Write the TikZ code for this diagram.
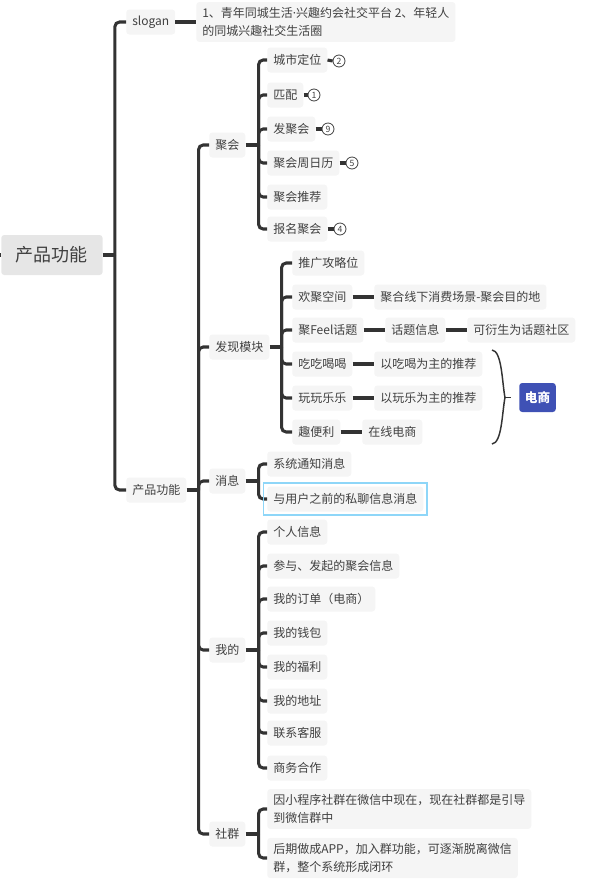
\documentclass[tikz,border=0pt]{standalone}
\usepackage{fontspec}
\setmainfont{Noto Sans CJK SC}
\newfontfamily\latinf{Noto Sans}
\usetikzlibrary{fit}
\definecolor{textc}{HTML}{404040}
\definecolor{boxc}{HTML}{F5F5F5}
\definecolor{rootc}{HTML}{E6E6E6}
\definecolor{linec}{HTML}{333333}
\definecolor{hlc}{HTML}{8ED6F8}
\definecolor{ecom}{HTML}{3F51B5}
\begin{document}
\begin{tikzpicture}[x=0.75pt,y=-0.75pt,
  box/.style={fill=boxc, rounded corners=2.25pt, text=textc, font=\fontsize{9pt}{13.5pt}\selectfont, inner xsep=4.5pt, inner ysep=3pt, minimum height=18.75pt, anchor=west},
  box2/.style={box, align=left, inner ysep=4pt},
  conn/.style={draw=linec, line width=2.3pt},
  branch/.style={conn, rounded corners=3.5pt},
  circ/.style={circle, draw=textc, line width=0.6pt, inner sep=0pt, minimum size=9pt, text=textc, font=\fontsize{6.5pt}{7pt}\selectfont},
]
\useasboundingbox (0,0) rectangle (596,890);

% root and level 1
\node[box, fill=rootc, font=\fontsize{13.5pt}{16pt}\selectfont, inner xsep=11pt, minimum height=30pt] (root) at (1,255) {产品功能};
\node[box] (slogan) at (126,22) {slogan};
\node[box2] (slogantxt) at (196,22) {1、青年同城生活{\latinf ·}兴趣约会社交平台 2、年轻人\\的同城兴趣社交生活圈};
\node[box] (pf) at (126,490) {产品功能};

% level 2
\node[box] (juhui) at (209,145) {聚会};
\node[box] (faxian) at (209,347) {发现模块};
\node[box] (xiaoxi) at (209,481) {消息};
\node[box] (wode) at (209,650) {我的};
\node[box] (shequn) at (209,834) {社群};

% 聚会 children
\node[box] (jh1) at (267,60) {城市定位};
\node[box] (jh2) at (267,95) {匹配};
\node[box] (jh3) at (267,129) {发聚会};
\node[box] (jh4) at (267,163) {聚会周日历};
\node[box] (jh5) at (267,197) {聚会推荐};
\node[box] (jh6) at (267,229) {报名聚会};
\node[circ] (c1) at (339,61) {2};
\node[circ] (c2) at (314,95) {1};
\node[circ] (c3) at (328,129) {9};
\node[circ] (c4) at (352,163) {5};
\node[circ] (c6) at (340,229) {4};

% 发现模块 children
\node[box] (fx1) at (292,263) {推广攻略位};
\node[box] (fx2) at (292,297) {欢聚空间};
\node[box] (fx3) at (292,330) {聚Feel话题};
\node[box] (fx4) at (292,364) {吃吃喝喝};
\node[box] (fx5) at (292,398) {玩玩乐乐};
\node[box] (fx6) at (292,432) {趣便利};
\node[box] (fx2a) at (374,297) {聚合线下消费场景-聚会目的地};
\node[box] (fx3a) at (385,330) {话题信息};
\node[box] (fx3b) at (467,330) {可衍生为话题社区};
\node[box] (fx4a) at (374,364) {以吃喝为主的推荐};
\node[box] (fx5a) at (374,398) {以玩乐为主的推荐};
\node[box] (fx6a) at (362,432) {在线电商};
\node[box, fill=ecom, text=white, font=\fontsize{9.5pt}{12pt}\selectfont\bfseries, minimum height=21.75pt, inner xsep=4.2pt] (ds) at (519,397.5) {电商};

% 消息 children
\node[box] (xx1) at (267,464) {系统通知消息};
\node[box] (xx2) at (267,499) {与用户之前的私聊信息消息};

% 我的 children
\node[box] (wd1) at (267,532) {个人信息};
\node[box] (wd2) at (267,566) {参与、发起的聚会信息};
\node[box] (wd3) at (267,599) {我的订单（电商）};
\node[box] (wd4) at (267,633) {我的钱包};
\node[box] (wd5) at (267,667) {我的福利};
\node[box] (wd6) at (267,701) {我的地址};
\node[box] (wd7) at (267,733) {联系客服};
\node[box] (wd8) at (267,768) {商务合作};

% 社群 children
\node[box2] (sq1) at (267,809) {因小程序社群在微信中现在，现在社群都是引导\\到微信群中};
\node[box2] (sq2) at (267,858) {后期做成APP，加入群功能，可逐渐脱离微信\\群，整个系统形成闭环};

% connectors
\draw[conn] (root.west) -- ++(-3,0);
\draw[conn] (root.east) -- ++(12,0) coordinate (j0);
\foreach \c in {slogan,pf} \draw[branch] (j0) |- (\c.west);
\draw[conn] (slogan.east) -- (slogantxt.west);

\draw[conn] (pf.east) -- ++(12,0) coordinate (j1);
\foreach \c in {juhui,faxian,xiaoxi,wode,shequn} \draw[branch] (j1) |- (\c.west);

\draw[conn] (juhui.east) -- ++(13,0) coordinate (j2);
\foreach \c in {jh1,jh2,jh3,jh4,jh5,jh6} \draw[branch] (j2) |- (\c.west);
\draw[conn] (jh1.east) -- (c1.west);
\draw[conn] (jh2.east) -- (c2.west);
\draw[conn] (jh3.east) -- (c3.west);
\draw[conn] (jh4.east) -- (c4.west);
\draw[conn] (jh6.east) -- (c6.west);

\draw[conn] (faxian.east) -- ++(12,0) coordinate (j3);
\foreach \c in {fx1,fx2,fx3,fx4,fx5,fx6} \draw[branch] (j3) |- (\c.west);
\draw[conn] (fx2.east) -- (fx2a.west);
\draw[conn] (fx3.east) -- (fx3a.west);
\draw[conn] (fx3a.east) -- (fx3b.west);
\draw[conn] (fx4.east) -- (fx4a.west);
\draw[conn] (fx5.east) -- (fx5a.west);
\draw[conn] (fx6.east) -- (fx6a.west);

% summary brace
\coordinate (bt) at (505,397.5);
\draw[linec, line width=1.1pt] (492,350) .. controls (502,351) and (502,382) .. (bt) .. controls (502,413) and (502,443) .. (492,444);
\draw[linec, line width=1.1pt, shorten >=6pt] (bt) -- (ds.west);

\draw[conn] (xiaoxi.east) -- ++(13,0) coordinate (j4);
\foreach \c in {xx1,xx2} \draw[branch] (j4) |- (\c.west);
\node[draw=hlc, line width=1.2pt, inner sep=2.6pt, fit=(xx2)] (hl) {};

\draw[conn] (wode.east) -- ++(13,0) coordinate (j5);
\foreach \c in {wd1,wd2,wd3,wd4,wd5,wd6,wd7,wd8} \draw[branch] (j5) |- (\c.west);

\draw[conn] (shequn.east) -- ++(13,0) coordinate (j6);
\foreach \c in {sq1,sq2} \draw[branch] (j6) |- (\c.west);
\end{tikzpicture}
\end{document}
